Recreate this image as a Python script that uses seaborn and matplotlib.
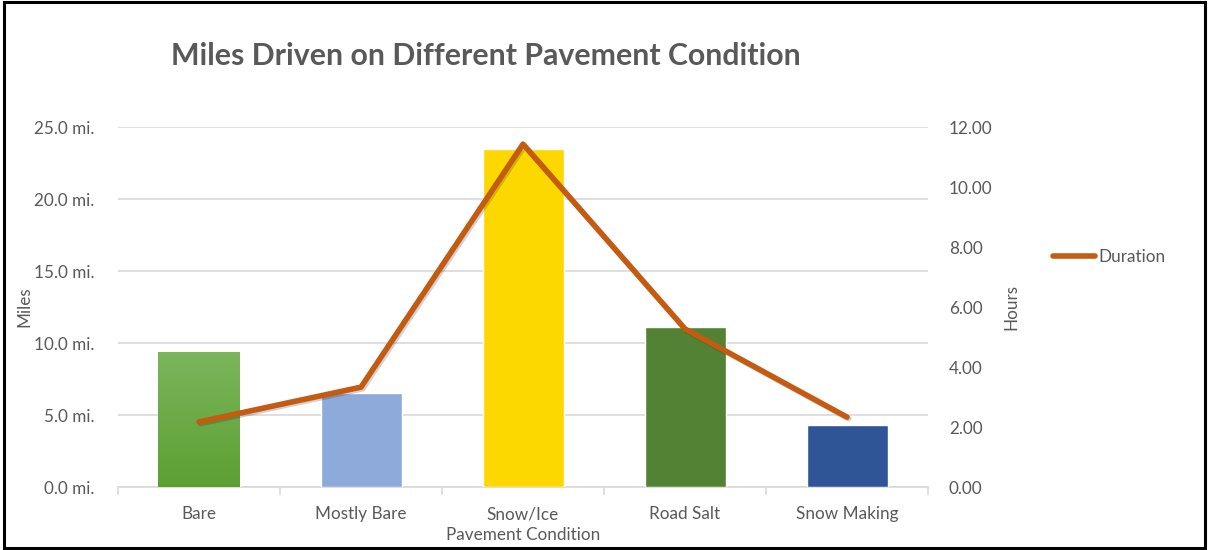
import numpy as np
import pandas as pd
import matplotlib
matplotlib.use("Agg")
import matplotlib.pyplot as plt
import matplotlib.patheffects as pe
from matplotlib.patches import Rectangle
from matplotlib.lines import Line2D
import seaborn as sns

# Data
conditions = ["Bare", "Mostly Bare", "Snow/Ice", "Road Salt", "Snow Making"]
miles = [9.4, 6.5, 23.5, 11.1, 4.3]
hours = [2.17, 3.33, 11.43, 5.27, 2.33]
bar_colors = ["#6aae3f", "#8eaadb", "#fdd800", "#548235", "#2f5597"]
line_color = "#c55a11"

sns.set_theme(style="white")
plt.rcParams["font.family"] = ["Lato", "DejaVu Sans"]

text_gray = "#595959"
grid_gray = "#d9d9d9"
fs = 12.3

fig = plt.figure(figsize=(12.09, 5.5), dpi=100)
ax = fig.add_axes([0.0976, 0.1145, 0.6700, 0.6545])

df = pd.DataFrame({"Condition": conditions, "Miles": miles, "Hours": hours})

sns.barplot(data=df, x="Condition", y="Miles", hue="Condition",
            palette=bar_colors, width=0.5, legend=False, ax=ax,
            saturation=1, zorder=3)

# Vertical gradient on the first bar
bare = ax.patches[0]
x0, y0 = bare.get_x(), bare.get_y()
w, h = bare.get_width(), bare.get_height()
grad = np.linspace(0, 1, 256).reshape(-1, 1)
cmap = matplotlib.colors.LinearSegmentedColormap.from_list("g", ["#5c9f31", "#7cb65d"])
im = ax.imshow(grad, extent=[x0, x0 + w, y0, y0 + h], origin="lower",
               cmap=cmap, aspect="auto", zorder=3.5)
im.set_clip_path(bare)

for p in ax.patches:
    p.set_path_effects([pe.SimplePatchShadow(offset=(1.2, -1.2), alpha=0.15), pe.Normal()])

ax.set_xlim(-0.5, len(conditions) - 0.5)
ax.set_ylim(0, 25)
ax.set_yticks(np.arange(0, 26, 5))
ax.set_yticklabels([f"{v:.1f} mi." for v in np.arange(0, 26, 5)])
ax.yaxis.grid(True, color=grid_gray, linewidth=1.2, zorder=0)
ax.set_axisbelow(True)
for s in ["top", "right", "left"]:
    ax.spines[s].set_visible(False)
ax.spines["bottom"].set_color(grid_gray)
ax.spines["bottom"].set_linewidth(1.2)
ax.tick_params(axis="y", length=0, pad=17, labelsize=fs, labelcolor=text_gray)
ax.tick_params(axis="x", length=0, pad=14, labelsize=fs, labelcolor=text_gray)
# Category separator ticks on the baseline
ax.set_xticks(np.arange(-0.5, len(conditions), 1.0), minor=True)
ax.tick_params(axis="x", which="minor", length=6, width=1.2, color=grid_gray, bottom=True)
ax.set_xlabel("Pavement Condition", fontsize=fs, color=text_gray, labelpad=3)
ax.set_ylabel("Miles", fontsize=fs, color=text_gray, labelpad=1)

# Secondary axis for the duration line
ax2 = ax.twinx()
sns.lineplot(x=np.arange(len(conditions)), y=df["Hours"], ax=ax2, color=line_color,
             linewidth=4, solid_capstyle="round", solid_joinstyle="round", zorder=5,
             path_effects=[pe.SimpleLineShadow(offset=(1.2, -1.2), alpha=0.2), pe.Normal()])
ax2.set_ylim(0, 12)
ax2.set_yticks(np.arange(0, 13, 2))
ax2.set_yticklabels([f"{v:.2f}" for v in np.arange(0, 13, 2)])
for s in ax2.spines.values():
    s.set_visible(False)
ax2.tick_params(axis="y", length=0, pad=15, labelsize=fs, labelcolor=text_gray)
ax2.set_ylabel("Hours", fontsize=fs, color=text_gray, labelpad=8)
ax2.set_xlim(-0.5, len(conditions) - 0.5)

fig.text(0.402, 0.898, "Miles Driven on Different Pavement Condition",
         ha="center", va="center", fontsize=21.8, fontweight="bold", color=text_gray)

# Legend
handle = Line2D([0], [0], color=line_color, linewidth=4, solid_capstyle="round")
fig.legend([handle], ["Duration"], loc="center left", bbox_to_anchor=(0.858, 0.532),
           frameon=False, fontsize=fs, labelcolor=text_gray, handlelength=2.5,
           handletextpad=0.2)

# Outer frame
fig.patches.append(Rectangle((0.003, 0.004), 0.994, 0.992, transform=fig.transFigure,
                             fill=False, edgecolor="black", linewidth=2.2))

fig.savefig("out.png", dpi=100)
